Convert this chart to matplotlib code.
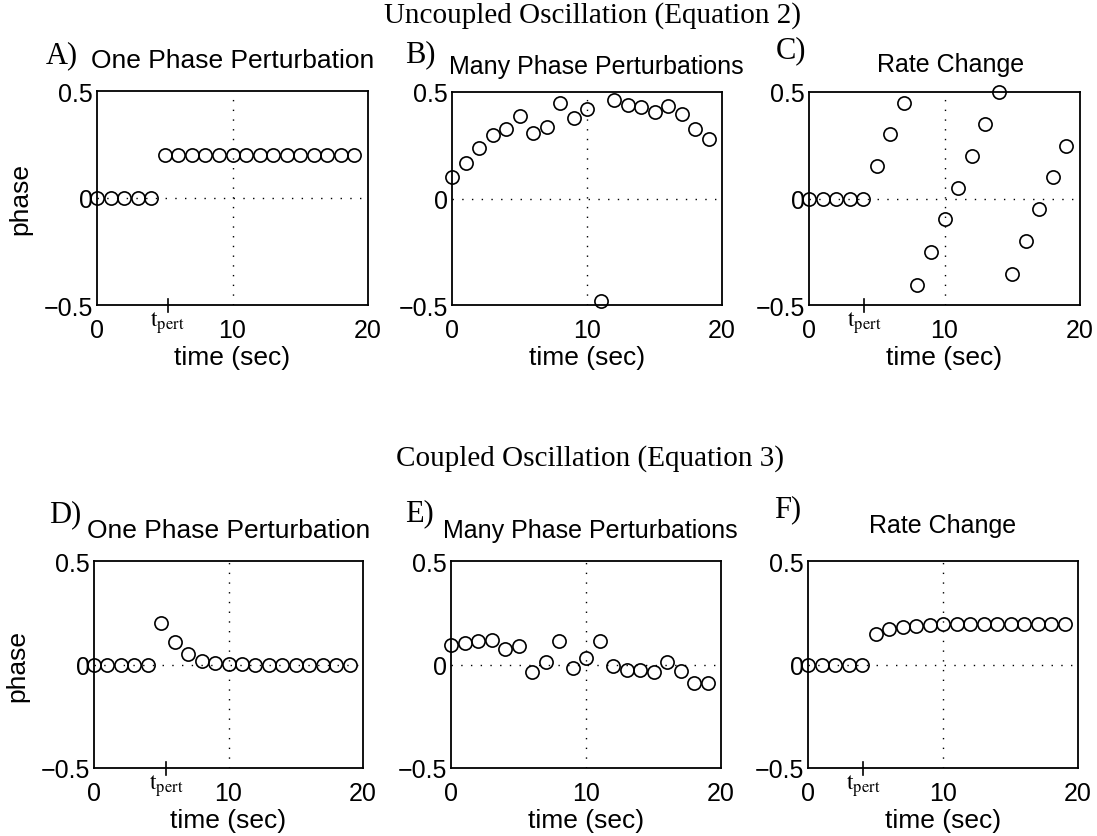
import numpy as np
import matplotlib
matplotlib.use("Agg")
import matplotlib.pyplot as plt

plt.rcParams['font.family'] = ['Liberation Sans', 'DejaVu Sans']
plt.rcParams['mathtext.fontset'] = 'stix'

W, H = 1097, 837

# time points (sec)
t = np.arange(20)

# uncoupled oscillation (Equation 2)
phase_a = [0, 0, 0, 0, 0] + [0.2] * 15
phase_b = [0.10, 0.165, 0.235, 0.297, 0.325, 0.386, 0.308, 0.336, 0.448, 0.378,
           0.419, -0.481, 0.464, 0.44, 0.43, 0.406, 0.433, 0.395, 0.328, 0.277]
phase_c = [0, 0, 0, 0, 0, 0.152, 0.303, 0.45, -0.404, -0.25,
           -0.098, 0.05, 0.2, 0.35, 0.5, -0.356, -0.2, -0.048, 0.1, 0.247]

# coupled oscillation (Equation 3)
phase_d = [0, 0, 0, 0, 0, 0.2, 0.107, 0.05, 0.019, 0.006,
           0.002, 0.001, 0, 0, 0, 0, 0, 0, 0, 0]
phase_e = [0.096, 0.105, 0.112, 0.117, 0.077, 0.089, -0.038, 0.01, 0.112, -0.019,
           0.032, 0.112, -0.006, -0.027, -0.026, -0.038, 0.01, -0.032, -0.088, -0.091]
phase_f = [0, 0, 0, 0, 0, 0.146, 0.17, 0.179, 0.187, 0.19,
           0.194, 0.196, 0.196, 0.197, 0.197, 0.197, 0.197, 0.198, 0.198, 0.198]

t_pert = {'A': 5.22, 'C': 4.05, 'D': 5.35, 'F': 4.1}

panels = [
    # letter, title, data, (left, top, right, bottom) px, title size, title pad, title x shift px
    ('A', 'One Phase Perturbation', phase_a, (97, 92, 368, 306), 19, 17, 0),
    ('B', 'Many Phase Perturbations', phase_b, (452, 93, 722, 306), 18, 14, 9),
    ('C', 'Rate Change', phase_c, (809, 93, 1080, 306), 18, 15, 6),
    ('D', 'One Phase Perturbation', phase_d, (94, 562, 363, 769), 19, 17, 0),
    ('E', 'Many Phase Perturbations', phase_e, (451, 562, 721, 769), 18, 17, 4),
    ('F', 'Rate Change', phase_f, (808, 562, 1078, 769), 18, 21, 0),
]

letter_pos = {'A': (62, 56), 'B': (420, 55), 'C': (791, 51),
              'D': (65, 515), 'E': (419, 514), 'F': (788, 510)}

fig = plt.figure(figsize=(W / 100, H / 100), dpi=100)

for letter, title, y, (l, tp, r, b), tsize, pad, shift in panels:
    ax = fig.add_axes([l / W, 1 - b / H, (r - l) / W, (b - tp) / H])
    ax.plot(t, y, 'o', mfc='none', mec='black', ms=9.5, mew=1.2, clip_on=False)
    ax.set_xlim(0, 20)
    ax.set_ylim(-0.5, 0.5)
    ax.set_xticks([0, 10, 20])
    ax.set_yticks([-0.5, 0, 0.5])
    ax.set_yticklabels(['\u22120.5', '0', '0.5'])
    ax.tick_params(direction='in', length=0, labelsize=18)
    ax.tick_params(axis='x', pad=9.5)
    ax.tick_params(axis='y', pad=3)
    ax.axvline(10, color='black', ls=(0, (1, 6)), lw=1.0)
    ax.axhline(0, color='black', ls=(0, (1, 6)), lw=1.0)
    for s in ax.spines.values():
        s.set_linewidth(1.3)
    ax.set_title(title, fontsize=tsize, pad=pad, x=0.5 + shift / (r - l))
    ax.set_xlabel('time (sec)', fontsize=19, labelpad=2)
    if letter in ('A', 'D'):
        ax.set_ylabel('phase', fontsize=19, labelpad=8)
    if letter in t_pert:
        tp_x = t_pert[letter]
        ax.plot([tp_x, tp_x], [-0.535, -0.47], color='black', lw=1.2, clip_on=False)
        ax.text(tp_x, -0.515, r'$\mathrm{t}_{\mathrm{pert}}$', ha='center', va='top',
                fontsize=17)
    lx, ly = letter_pos[letter]
    fig.text(lx / W, 1 - ly / H, letter + ')', ha='center', va='center',
             fontsize=22, family='Liberation Serif')

fig.text(592 / W, 1 - 16 / H, 'Uncoupled Oscillation (Equation 2)', ha='center',
         va='center', fontsize=21, family='Liberation Serif')
fig.text(590 / W, 1 - 459 / H, 'Coupled Oscillation (Equation 3)', ha='center',
         va='center', fontsize=21, family='Liberation Serif')

fig.savefig('out.png', dpi=100)
